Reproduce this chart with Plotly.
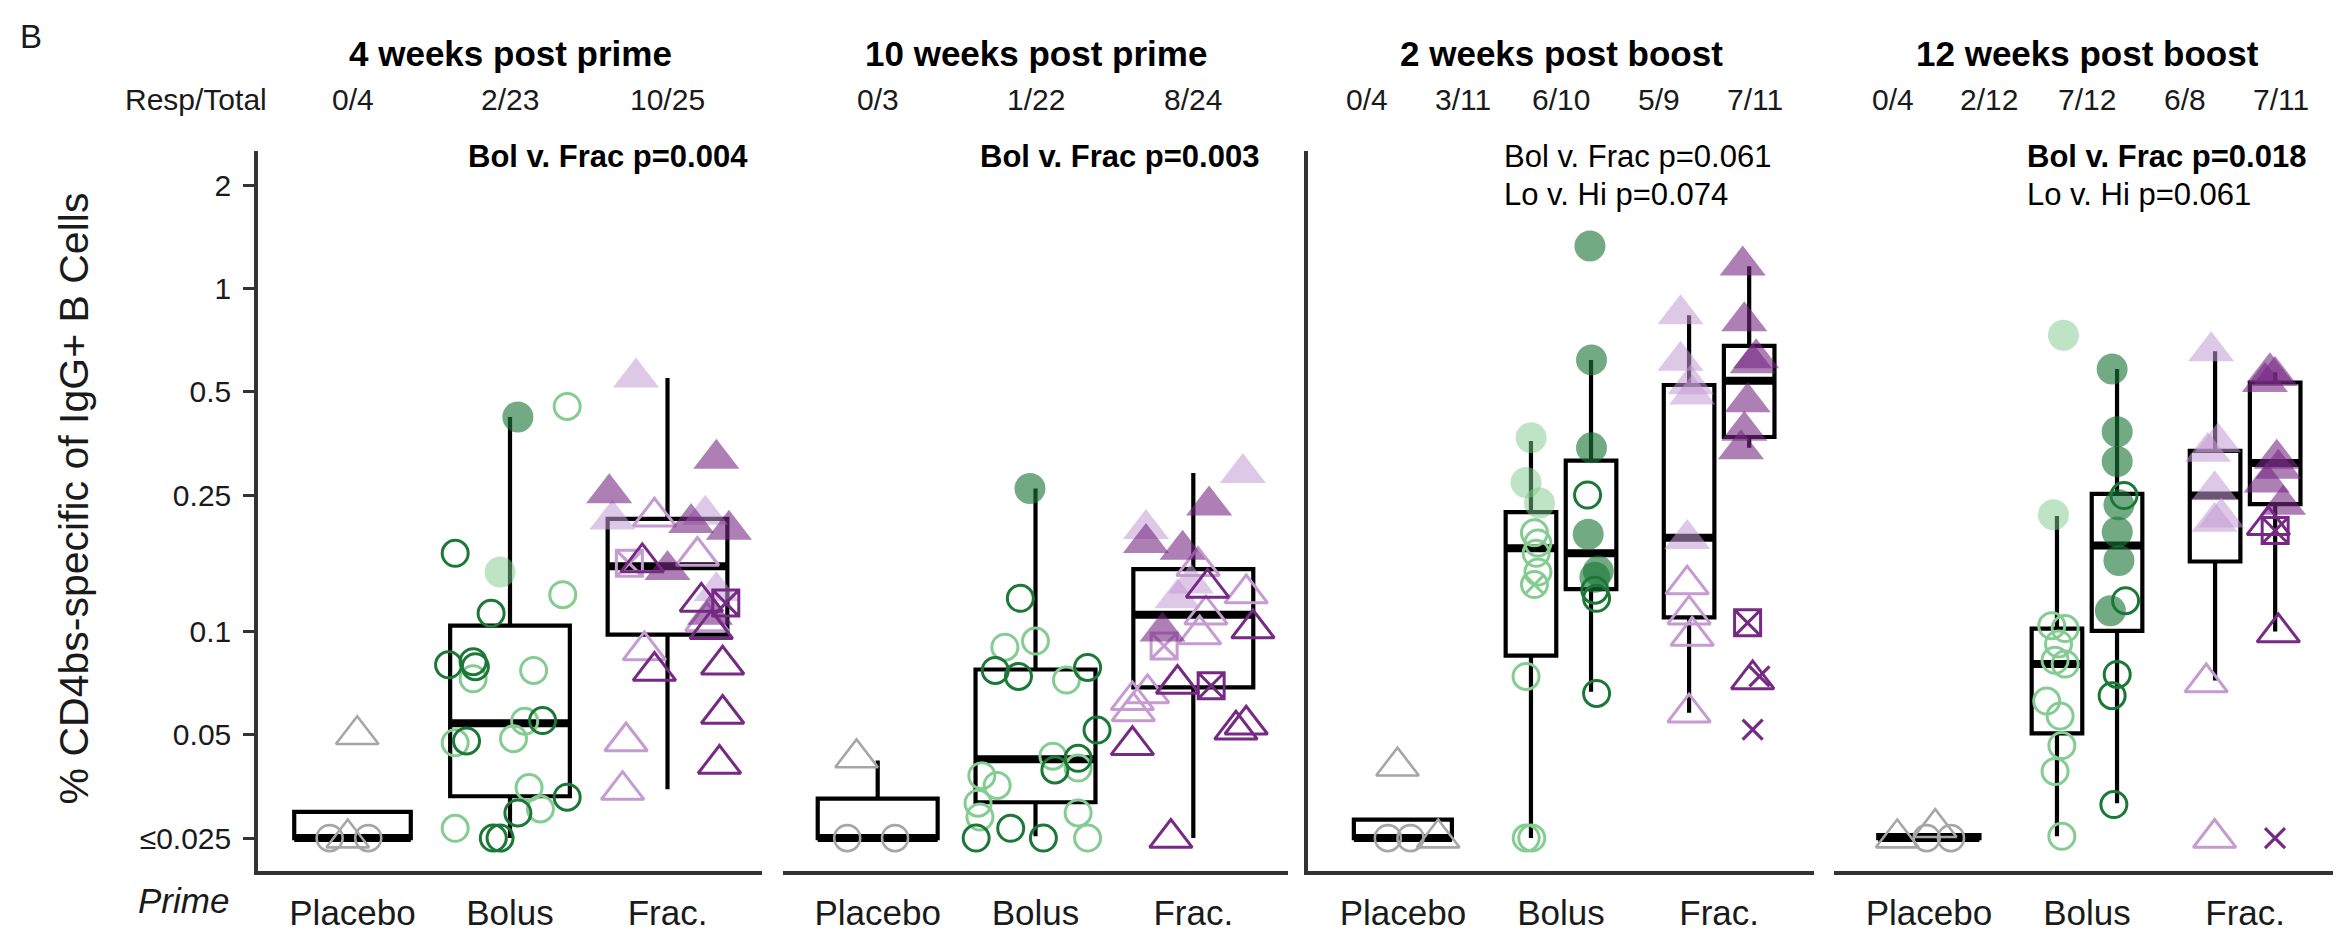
import plotly.graph_objects as go

# ---------------- data ----------------
panel_titles = ["4 weeks post prime", "10 weeks post prime", "2 weeks post boost", "12 weeks post boost"]
resp_total = [["0/4", "2/23", "10/25"], ["0/3", "1/22", "8/24"],
              ["0/4", "3/11", "6/10", "5/9", "7/11"], ["0/4", "2/12", "7/12", "6/8", "7/11"]]
pval_line1 = ["<b>Bol v. Frac p=0.004</b>", "<b>Bol v. Frac p=0.003</b>",
              "Bol v. Frac p=0.061", "<b>Bol v. Frac p=0.018</b>"]
pval_line2 = ["", "", "Lo v. Hi p=0.074", "Lo v. Hi p=0.061"]
categories = ["Placebo", "Bolus", "Frac."]
y_tickvals = [0.025, 0.05, 0.1, 0.25, 0.5, 1, 2]
y_ticktext = ["\u22640.025", "0.05", "0.1", "0.25", "0.5", "1", "2"]

# ---- Panel 1: 4 weeks post prime (box stats) ----
p1_pos = [0, 1, 2]
p1_width = [0.74, 0.76, 0.76]
p1_q1 = [0.025, 0.0331, 0.098]
p1_med = [0.025, 0.054, 0.155]
p1_q3 = [0.0298, 0.104, 0.213]
p1_lo = [0.025, 0.025, 0.0347]
p1_hi = [0.0298, 0.422, 0.548]
p1_placebo_val = [0.025, 0.025, 0.025, 0.05]
p1_placebo_dx = [-0.145, -0.03, 0.10, 0.03]
p1_placebo_mk = ["go", "gt", "go", "gt"]
p1_bolus_val = [0.422, 0.149, 0.169, 0.113, 0.080, 0.0817, 0.079, 0.055, 0.048, 0.0329, 0.0296, 0.025,
                0.025, 0.453, 0.128, 0.077, 0.0728, 0.0487, 0.0548, 0.0474, 0.0351, 0.0304, 0.0267]
p1_bolus_dx = [0.05, -0.063, -0.348, -0.12, -0.39, -0.234, -0.22, 0.207, -0.276, 0.363, 0.05, -0.106,
               -0.063, 0.363, 0.335, 0.15, -0.234, 0.022, 0.093, -0.348, 0.121, 0.193, -0.348]
p1_bolus_mk = ["dO", "lO", "do", "do", "do", "do", "do", "do", "do", "do", "do", "do",
               "do", "lo", "lo", "lo", "lo", "lo", "lo", "lo", "lo", "lo", "lo"]
p1_frac_val = [0.55, 0.253, 0.212, 0.319, 0.207, 0.219, 0.198, 0.151, 0.131, 0.112, 0.216, 0.166, 0.088,
               0.0478, 0.0345, 0.107, 0.158, 0.159, 0.0767, 0.122, 0.1016, 0.080, 0.0575, 0.0411, 0.121]
p1_frac_dx = [-0.2, -0.37, -0.35, 0.31, 0.15, 0.24, 0.39, 0.0, 0.31, 0.27, -0.083, 0.19, -0.147,
              -0.263, -0.285, 0.25, -0.242, -0.16, -0.083, 0.215, 0.278, 0.35, 0.35, 0.33, 0.37]
p1_frac_mk = ["pT", "qT", "pT", "qT", "qT", "pT", "qT", "qT", "pT", "qT", "pt", "pt", "pt",
              "pt", "pt", "pt", "ps", "qt", "qt", "qt", "qt", "qt", "qt", "qt", "qs"]

# ---- Panel 2: 10 weeks post prime ----
p2_pos = [0, 1, 2]
p2_width = [0.76, 0.76, 0.76]
p2_q1 = [0.025, 0.0318, 0.0687]
p2_med = [0.025, 0.0424, 0.112]
p2_q3 = [0.0326, 0.0775, 0.152]
p2_lo = [0.025, 0.0253, 0.025]
p2_hi = [0.0421, 0.261, 0.29]
p2_placebo_val = [0.0428, 0.025, 0.025]
p2_placebo_dx = [-0.134, -0.193, 0.11]
p2_placebo_mk = ["gt", "go", "go"]
p2_bolus_val = [0.261, 0.125, 0.077, 0.074, 0.0786, 0.0516, 0.0427, 0.0395, 0.0267, 0.025, 0.025,
                0.090, 0.0938, 0.0722, 0.0433, 0.040, 0.038, 0.0356, 0.0316, 0.0288, 0.0296, 0.025]
p2_bolus_dx = [-0.035, -0.096, -0.255, -0.108, 0.33, 0.39, 0.27, 0.123, -0.157, -0.376, 0.05,
               -0.194, 0.0, 0.196, 0.11, 0.27, -0.34, -0.243, -0.364, -0.352, 0.27, 0.33]
p2_bolus_mk = ["dO", "do", "do", "do", "do", "do", "do", "do", "do", "do", "do",
               "lo", "lo", "lo", "lo", "lo", "lo", "lo", "lo", "lo", "lo", "lo"]
p2_frac_val = [0.290, 0.233, 0.199, 0.181, 0.173, 0.125, 0.100, 0.138, 0.155, 0.129, 0.112, 0.098,
               0.066, 0.063, 0.0585, 0.0908, 0.134, 0.102, 0.0703, 0.0466, 0.0517, 0.0535, 0.025, 0.0695]
p2_frac_dx = [0.314, 0.10, -0.30, -0.30, -0.068, -0.10, -0.195, -0.015, 0.03, 0.335, 0.08, 0.04,
              -0.29, -0.386, -0.38, -0.185, 0.09, 0.378, -0.10, -0.386, 0.27, 0.335, -0.142, 0.113]
p2_frac_mk = ["pT", "qT", "pT", "qT", "qT", "pT", "qT", "pT", "pt", "pt", "pt", "pt",
              "pt", "pt", "pt", "ps", "qt", "qt", "qt", "qt", "qt", "qt", "qt", "qs"]

# ---- Panel 3: 2 weeks post boost (Placebo, Bolus Lo/Hi, Frac Lo/Hi) ----
p3_pos = [0, 0.81, 1.19, 1.81, 2.19]
p3_width = [0.62, 0.32, 0.32, 0.32, 0.32]
p3_q1 = [0.025, 0.0851, 0.133, 0.110, 0.369]
p3_med = [0.025, 0.175, 0.169, 0.1875, 0.538]
p3_q3 = [0.0283, 0.223, 0.315, 0.523, 0.68]
p3_lo = [0.025, 0.025, 0.0668, 0.058, 0.343]
p3_hi = [0.0283, 0.359, 0.619, 0.836, 1.16]
p3_placebo_val = [0.025, 0.025, 0.025, 0.0405]
p3_placebo_dx = [-0.095, 0.048, 0.223, -0.034]
p3_placebo_mk = ["go", "go", "gt", "gt"]
p3_bolo_val = [0.367, 0.272, 0.237, 0.194, 0.181, 0.169, 0.149, 0.137, 0.074, 0.025, 0.025]
p3_bolo_dx = [0.001, -0.031, 0.054, 0.022, 0.044, 0.033, 0.044, 0.022, -0.031, 0.005, -0.03]
p3_bolo_mk = ["lO", "lO", "lO", "lo", "lo", "lo", "lo", "lc", "lo", "lo", "lo"]
p3_bohi_val = [1.33, 0.619, 0.343, 0.192, 0.150, 0.144, 0.250, 0.132, 0.125, 0.066]
p3_bohi_dx = [-0.007, 0.003, 0.003, -0.018, 0.046, 0.024, -0.022, 0.024, 0.035, 0.035]
p3_bohi_mk = ["dO", "dO", "dO", "dO", "dO", "dO", "do", "do", "do", "do"]
p3_frlo_val = [0.841, 0.615, 0.526, 0.491, 0.186, 0.137, 0.112, 0.097, 0.058]
p3_frlo_dx = [-0.054, -0.054, 0.01, 0.02, -0.012, -0.012, 0.0, 0.02, 0.0]
p3_frlo_mk = ["pT", "pT", "pT", "pT", "pT", "pt", "pt", "pt", "pt"]
p3_frhi_val = [1.166, 0.802, 0.626, 0.605, 0.466, 0.385, 0.34, 0.106, 0.0725, 0.074, 0.0518]
p3_frhi_dx = [-0.041, -0.031, 0.044, 0.022, -0.01, -0.031, -0.052, -0.01, 0.022, 0.065, 0.022]
p3_frhi_mk = ["qT", "qT", "qT", "qT", "qT", "qT", "qT", "qs", "qt", "qx", "qx"]

# ---- Panel 4: 12 weeks post boost ----
p4_pos = [0, 0.81, 1.19, 1.81, 2.19]
p4_width = [0.64, 0.32, 0.32, 0.32, 0.32]
p4_q1 = [0.025, 0.0505, 0.1005, 0.160, 0.235]
p4_med = [0.025, 0.0804, 0.178, 0.249, 0.31]
p4_q3 = [0.0255, 0.102, 0.252, 0.336, 0.532]
p4_lo = [0.025, 0.0253, 0.0316, 0.072, 0.10]
p4_hi = [0.0255, 0.217, 0.582, 0.656, 0.57]
p4_placebo_val = [0.025, 0.0268, 0.025, 0.025]
p4_placebo_dx = [-0.2, 0.04, -0.014, 0.14]
p4_placebo_mk = ["gt", "gt", "go", "go"]
p4_bolo_val = [0.73, 0.219, 0.104, 0.102, 0.092, 0.0824, 0.0804, 0.0627, 0.0567, 0.0465, 0.0391, 0.0253]
p4_bolo_dx = [0.041, -0.022, -0.033, 0.052, 0.01, -0.012, 0.052, -0.065, 0.02, 0.031, -0.012, 0.031]
p4_bolo_mk = ["lO", "lO", "lo", "lo", "lo", "lo", "lo", "lo", "lo", "lo", "lo", "lo"]
p4_bohi_val = [0.582, 0.382, 0.313, 0.234, 0.195, 0.161, 0.115, 0.249, 0.123, 0.075, 0.065, 0.0313]
p4_bohi_dx = [-0.031, 0.001, 0.001, 0.012, 0.001, 0.012, -0.042, 0.044, 0.054, 0.001, -0.031, -0.02]
p4_bohi_mk = ["dO", "dO", "dO", "dO", "dO", "dO", "dO", "do", "do", "do", "do", "do"]
p4_frlo_val = [0.656, 0.356, 0.334, 0.258, 0.215, 0.209, 0.071, 0.025]
p4_frlo_dx = [-0.025, 0.018, -0.046, -0.003, 0.039, -0.003, -0.056, -0.003]
p4_frlo_mk = ["pT", "pT", "pT", "pT", "pT", "pT", "pt", "pt"]
p4_frhi_val = [0.570, 0.556, 0.534, 0.319, 0.298, 0.272, 0.234, 0.204, 0.197, 0.0993, 0.025]
p4_frhi_dx = [-0.033, -0.001, -0.065, 0.01, 0.02, -0.054, 0.05, -0.043, 0.0, 0.02, -0.001]
p4_frhi_mk = ["qT", "qT", "qT", "qT", "qT", "qT", "qT", "qt", "qs", "qt", "qx"]

# ---------------- styling ----------------
W, H = 2341, 933
L, R, T, B = 250, 2332, 143, 887
FONT = "Liberation Sans, Arial, Helvetica, sans-serif"
AXC = "#333333"

GRAY = "#a6a6a6"
LG, LG_F = "#85cc92", "rgba(127,201,139,0.5)"
DG, DG_F = "#1b7837", "rgba(27,120,55,0.62)"
LP, LP_F = "#c59bd2", "rgba(195,155,211,0.55)"
DP, DP_F = "#762a83", "rgba(118,42,131,0.6)"

MK = {
    "go": ("circle-open", GRAY, 26, 2.6), "gt": ("triangle-up-open", GRAY, 37, 2.6),
    "lo": ("circle-open", LG, 26, 3), "lO": ("circle", LG_F, 31, 0), "lc": ("circle-x-open", LG, 26, 3),
    "do": ("circle-open", DG, 26, 3), "dO": ("circle", DG_F, 31, 0),
    "pt": ("triangle-up-open", LP, 37, 3), "pT": ("triangle-up", LP_F, 40, 0), "ps": ("square-x-open", LP, 26, 3),
    "qt": ("triangle-up-open", DP, 37, 3), "qT": ("triangle-up", DP_F, 40, 0), "qs": ("square-x-open", DP, 26, 3),
    "qx": ("x-thin-open", DP, 20, 3.2),
}


def px(x):
    return (x - L) / (R - L)


def py(y):
    return (B - y) / (B - T)


panels = [
    dict(xa="x", ya="y", pos=p1_pos, w=p1_width, q1=p1_q1, med=p1_med, q3=p1_q3, lo=p1_lo, hi=p1_hi,
         groups=[(p1_placebo_val, p1_placebo_dx, p1_placebo_mk), (p1_bolus_val, p1_bolus_dx, p1_bolus_mk),
                 (p1_frac_val, p1_frac_dx, p1_frac_mk)],
         resp_x=[0, 1, 2], pval_x=0.72),
    dict(xa="x2", ya="y", pos=p2_pos, w=p2_width, q1=p2_q1, med=p2_med, q3=p2_q3, lo=p2_lo, hi=p2_hi,
         groups=[(p2_placebo_val, p2_placebo_dx, p2_placebo_mk), (p2_bolus_val, p2_bolus_dx, p2_bolus_mk),
                 (p2_frac_val, p2_frac_dx, p2_frac_mk)],
         resp_x=[0, 1, 2], pval_x=0.637),
    dict(xa="x3", ya="y2", pos=p3_pos, w=p3_width, q1=p3_q1, med=p3_med, q3=p3_q3, lo=p3_lo, hi=p3_hi,
         groups=[(p3_placebo_val, p3_placebo_dx, p3_placebo_mk), (p3_bolo_val, p3_bolo_dx, p3_bolo_mk),
                 (p3_bohi_val, p3_bohi_dx, p3_bohi_mk), (p3_frlo_val, p3_frlo_dx, p3_frlo_mk),
                 (p3_frhi_val, p3_frhi_dx, p3_frhi_mk)],
         resp_x=[-0.23, 0.38, 1.0, 1.62, 2.23], pval_x=0.624),
    dict(xa="x4", ya="y2", pos=p4_pos, w=p4_width, q1=p4_q1, med=p4_med, q3=p4_q3, lo=p4_lo, hi=p4_hi,
         groups=[(p4_placebo_val, p4_placebo_dx, p4_placebo_mk), (p4_bolo_val, p4_bolo_dx, p4_bolo_mk),
                 (p4_bohi_val, p4_bohi_dx, p4_bohi_mk), (p4_frlo_val, p4_frlo_dx, p4_frlo_mk),
                 (p4_frhi_val, p4_frhi_dx, p4_frhi_mk)],
         resp_x=[-0.23, 0.38, 1.0, 1.62, 2.23], pval_x=0.611),
]
domains = [(250, 754), (775, 1280), (1300, 1806), (1826, 2332)]

fig = go.Figure()

for p in panels:
    # boxes
    for i, pos in enumerate(p["pos"]):
        fig.add_trace(go.Box(
            x=[pos], q1=[p["q1"][i]], median=[p["med"][i]], q3=[p["q3"][i]],
            lowerfence=[p["lo"][i]], upperfence=[p["hi"][i]], width=p["w"][i],
            fillcolor="white", line=dict(color="black", width=4.2), whiskerwidth=0,
            boxpoints=False, xaxis=p["xa"], yaxis=p["ya"], showlegend=False, hoverinfo="skip"))
        fig.add_trace(go.Scatter(
            x=[pos - p["w"][i] / 2, pos + p["w"][i] / 2], y=[p["med"][i], p["med"][i]],
            mode="lines", line=dict(color="black", width=8), xaxis=p["xa"], yaxis=p["ya"],
            showlegend=False, hoverinfo="skip"))
    # points
    for gi, (vals, dxs, mks) in enumerate(p["groups"]):
        gpos = p["pos"][gi]
        for code in MK:
            idx = [k for k, m in enumerate(mks) if m == code]
            if not idx:
                continue
            sym, col, size, lw = MK[code]
            fig.add_trace(go.Scatter(
                x=[gpos + dxs[k] for k in idx], y=[vals[k] for k in idx], mode="markers",
                marker=dict(symbol=sym, color=col, size=size,
                            line=dict(width=lw, color=col)),
                xaxis=p["xa"], yaxis=p["ya"], showlegend=False, hoverinfo="skip"))

yrange = [-1.698, 0.4006]
layout = dict(
    width=W, height=H, paper_bgcolor="white", plot_bgcolor="white",
    margin=dict(l=L, r=W - R, t=T, b=H - B, pad=0),
    font=dict(family=FONT, color="#1a1a1a"),
    showlegend=False, boxmode="overlay",
    yaxis=dict(type="log", range=yrange, domain=[0, 1], anchor="x", showline=True, linewidth=3.5,
               linecolor=AXC, ticks="outside", ticklen=11, tickwidth=3, tickcolor=AXC,
               tickvals=y_tickvals, ticktext=y_ticktext, tickfont=dict(size=30, color="#1a1a1a"),
               ticklabelstandoff=6, showgrid=False, zeroline=False),
    yaxis2=dict(type="log", range=yrange, domain=[0, 1], anchor="x3", showline=True, linewidth=3.5,
                linecolor=AXC, ticks="", showticklabels=False, showgrid=False, zeroline=False),
)
for k, (a, b) in enumerate(domains):
    name = "xaxis" if k == 0 else f"xaxis{k + 1}"
    layout[name] = dict(domain=[px(a), px(b)], anchor="y" if k < 2 else "y2", range=[-0.6, 2.6],
                        showline=True, linewidth=3.5, linecolor=AXC, ticks="",
                        tickvals=[0, 1, 2], ticktext=categories,
                        tickfont=dict(size=35, color="#1a1a1a"), ticklabelstandoff=8,
                        showgrid=False, zeroline=False)
fig.update_layout(**layout)

ann = []
for k, p in enumerate(panels):
    xa = p["xa"]
    ann.append(dict(text=f"<b>{panel_titles[k]}</b>", xref=f"{xa} domain", x=0.5, yref="paper", y=py(42),
                    showarrow=False, font=dict(size=35, color="black"), xanchor="center", yanchor="middle"))
    for j, t in enumerate(resp_total[k]):
        ann.append(dict(text=t, xref=xa, x=p["resp_x"][j], yref="paper", y=py(90), showarrow=False,
                        font=dict(size=30), xanchor="center", yanchor="middle"))
    ann.append(dict(text=pval_line1[k], xref=xa, x=p["pval_x"], yref="paper", y=py(149), showarrow=False,
                    font=dict(size=31, color="black"), xanchor="left", yanchor="middle"))
    if pval_line2[k]:
        ann.append(dict(text=pval_line2[k], xref=xa, x=p["pval_x"], yref="paper", y=py(188),
                        showarrow=False, font=dict(size=31, color="black"), xanchor="left",
                        yanchor="middle"))
ann.append(dict(text="Resp/Total", xref="paper", x=px(188), yref="paper", y=py(90), showarrow=False,
                font=dict(size=30), xanchor="center", yanchor="middle"))
ann.append(dict(text="B", xref="paper", x=px(23), yref="paper", y=py(25), showarrow=False,
                font=dict(size=33), xanchor="center", yanchor="middle"))
ann.append(dict(text="<i>Prime</i>", xref="paper", x=px(175), yref="paper", y=py(917), showarrow=False,
                font=dict(size=35), xanchor="center", yanchor="middle"))
ann.append(dict(text="% CD4bs-specific of IgG+ B Cells", xref="paper", x=px(66), yref="paper", y=py(502),
                showarrow=False, textangle=-90, font=dict(size=41), xanchor="center", yanchor="middle"))
fig.update_layout(annotations=ann)

fig.write_html("out.html")
